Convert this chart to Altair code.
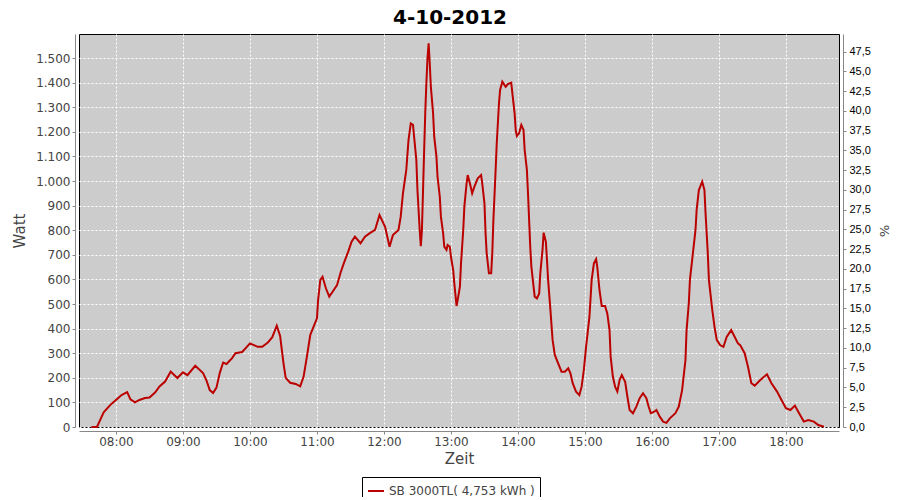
import altair as alt
import pandas as pd

# ---- data ----
times = [
    "07:38", "07:43", "07:46", "07:49", "07:55", "08:00", "08:05", "08:10", "08:13", "08:17",
    "08:21", "08:26", "08:30", "08:35", "08:39", "08:44", "08:49", "08:55", "09:00", "09:04",
    "09:11", "09:18", "09:21", "09:24", "09:27", "09:30", "09:33", "09:36", "09:39", "09:44",
    "09:47", "09:53", "09:57", "10:00", "10:04", "10:07", "10:11", "10:16", "10:20", "10:24",
    "10:27", "10:30", "10:32", "10:36", "10:41", "10:45", "10:48", "10:51", "10:54", "10:57",
    "11:00", "11:01", "11:03", "11:05", "11:08", "11:11", "11:14", "11:18", "11:21", "11:24",
    "11:28", "11:31", "11:34", "11:39", "11:43", "11:47", "11:52", "11:56", "12:01", "12:05",
    "12:08", "12:13", "12:15", "12:17", "12:20", "12:22", "12:24", "12:26", "12:27", "12:29",
    "12:30", "12:31", "12:32", "12:33", "12:34", "12:35", "12:36", "12:37", "12:38", "12:39",
    "12:40", "12:41", "12:42", "12:44", "12:45", "12:47", "12:48", "12:50", "12:51", "12:53",
    "12:54", "12:56", "12:57", "12:59", "13:00", "13:02", "13:03", "13:05", "13:06", "13:08",
    "13:09", "13:11", "13:12", "13:14", "13:15", "13:17", "13:19", "13:21", "13:24", "13:27",
    "13:28", "13:30", "13:31", "13:32", "13:34", "13:36", "13:37", "13:38", "13:40", "13:41",
    "13:43", "13:44", "13:46", "13:47", "13:49", "13:51", "13:54", "13:55", "13:57", "13:58",
    "13:59", "14:01", "14:03", "14:05", "14:06", "14:08", "14:09", "14:10", "14:11", "14:12",
    "14:14", "14:15", "14:17", "14:19", "14:20", "14:22", "14:23", "14:25", "14:26", "14:27",
    "14:29", "14:31", "14:33", "14:36", "14:39", "14:42", "14:45", "14:47", "14:49", "14:52",
    "14:55", "14:57", "14:59", "15:01", "15:04", "15:06", "15:08", "15:10", "15:11", "15:13",
    "15:15", "15:18", "15:20", "15:22", "15:23", "15:25", "15:27", "15:29", "15:31", "15:33",
    "15:36", "15:38", "15:40", "15:43", "15:46", "15:49", "15:52", "15:55", "15:57", "15:59",
    "16:02", "16:04", "16:07", "16:10", "16:13", "16:16", "16:21", "16:24", "16:27", "16:28",
    "16:30", "16:31", "16:33", "16:34", "16:36", "16:37", "16:39", "16:40", "16:42", "16:45",
    "16:47", "16:48", "16:50", "16:51", "16:54", "16:56", "16:58", "17:01", "17:04", "17:07",
    "17:11", "17:14", "17:17", "17:19", "17:23", "17:26", "17:29", "17:32", "17:37", "17:43",
    "17:47", "17:52", "17:56", "18:00", "18:04", "18:08", "18:11", "18:16", "18:20", "18:25",
    "18:29", "18:34",
]
watts = [
    0, 0, 30, 60, 90, 110, 130, 142, 112, 100,
    110, 118, 120, 140, 165, 185, 225, 199, 222, 211,
    249, 219, 190, 150, 138, 160, 220, 262, 256, 280,
    300, 305, 325, 340, 332, 326, 326, 343, 365, 412,
    370, 260, 200, 180, 175, 165, 204, 286, 374, 408,
    442, 516, 598, 611, 564, 530, 550, 577, 625, 665,
    713, 753, 774, 747, 774, 787, 801, 862, 814, 733,
    780, 801, 855, 950, 1045, 1167, 1234, 1228, 1180, 1085,
    963, 882, 801, 735, 801, 963, 1126, 1280, 1400, 1500,
    1560, 1478, 1383, 1275, 1180, 1099, 1017, 936, 855, 787,
    733, 720, 740, 733, 692, 638, 584, 492, 516, 570,
    665, 801, 896, 990, 1024, 990, 950, 977, 1011, 1024,
    990, 909, 787, 706, 625, 625, 706, 841, 1045, 1153,
    1316, 1370, 1404, 1397, 1383, 1394, 1400, 1356, 1275, 1207,
    1183, 1194, 1228, 1207, 1126, 1045, 950, 841, 733, 652,
    570, 530, 523, 543, 625, 720, 790, 753, 679, 598,
    480, 354, 293, 259, 225, 225, 239, 218, 178, 144,
    130, 164, 232, 326, 448, 598, 665, 682, 652, 557,
    492, 492, 462, 394, 286, 204, 164, 144, 191, 211,
    184, 123, 69, 56, 83, 117, 137, 117, 83, 56,
    62, 69, 42, 22, 17, 35, 56, 83, 150, 191,
    272, 394, 503, 598, 679, 720, 801, 882, 963, 997,
    963, 869, 706, 598, 476, 408, 354, 333, 326, 367,
    394, 367, 340, 333, 300, 245, 178, 168, 191, 214,
    178, 144, 110, 76, 69, 87, 62, 22, 28, 22,
    8, 1,
]
series_name = "SB 3000TL( 4,753 kWh )"
date_str = "2012-10-04"
title_text = "4-10-2012"
watt_ticks = list(range(0, 1501, 100))
pct_ticks = [i * 2.5 for i in range(20)]
hour_ticks = list(range(8, 19))

df = pd.DataFrame({
    "Zeit": [f"{date_str}T{t}:00" for t in times],
    "Watt": watts,
    "Serie": [series_name] * len(times),
})
pct_df = pd.DataFrame({"pct": [pct_ticks[0], pct_ticks[-1]]})

FONT = "DejaVu Sans"
AX_GRAY = "#888888"
LBL = "#444444"

x_enc = alt.X(
    "Zeit:T",
    title="Zeit",
    scale=alt.Scale(domain=[
        alt.DateTime(year=2012, month=10, date=4, hours=7, minutes=26, seconds=54),
        alt.DateTime(year=2012, month=10, date=4, hours=18, minutes=47, seconds=30),
    ]),
    axis=alt.Axis(
        values=[alt.DateTime(year=2012, month=10, date=4, hours=h) for h in hour_ticks],
        format="%H:%M",
        offset=4,
        grid=True, gridColor="white", gridDash=[2, 2], gridOpacity=1, gridWidth=1,
        domainColor=AX_GRAY, tickColor=AX_GRAY, tickSize=3,
        labelFont=FONT, labelFontSize=12, labelColor=LBL, labelPadding=2,
        titleFont=FONT, titleFontSize=15, titleFontWeight="normal", titleColor=LBL,
        titlePadding=4,
    ),
)

line = alt.Chart(df).mark_line(strokeWidth=2, interpolate="linear").encode(
    x=x_enc,
    y=alt.Y(
        "Watt:Q",
        title="Watt",
        scale=alt.Scale(domain=[0, 1597.6], nice=False, zero=True),
        axis=alt.Axis(
            values=watt_ticks,
            labelExpr="replace(format(datum.value, ','), ',', '.')",
            offset=4,
            grid=True, gridColor="white", gridDash=[2, 2], gridOpacity=1, gridWidth=1,
            domainColor=AX_GRAY, tickColor=AX_GRAY, tickSize=3,
            labelFont=FONT, labelFontSize=12, labelColor=LBL, labelPadding=2,
            titleFont=FONT, titleFontSize=15, titleFontWeight="normal", titleColor=LBL,
            titlePadding=8,
        ),
    ),
    color=alt.Color(
        "Serie:N",
        scale=alt.Scale(range=["#bb0000"]),
        legend=alt.Legend(
            title=None, orient="none", legendX=283, legendY=443,
            direction="horizontal",
            strokeColor="black", padding=5, fillColor="white",
            symbolType="stroke", symbolSize=256, symbolStrokeWidth=2,
            labelFont=FONT, labelFontSize=12, labelColor=LBL, labelOffset=4,
        ),
    ),
)

pct_layer = alt.Chart(pct_df).mark_point(opacity=0).encode(
    y=alt.Y(
        "pct:Q",
        title="%",
        scale=alt.Scale(domain=[0, 49.74], nice=False, zero=True),
        axis=alt.Axis(
            orient="right",
            values=pct_ticks,
            labelExpr="replace(format(datum.value, '.1f'), '.', ',')",
            offset=4, grid=False,
            domainColor=AX_GRAY, tickColor=AX_GRAY, tickSize=3,
            labelFont="Liberation Sans", labelFontSize=11, labelColor="black", labelPadding=3,
            titleFont=FONT, titleFontSize=13, titleFontWeight="normal", titleColor=LBL,
            titlePadding=6,
        ),
    ),
)

chart = alt.layer(line, pct_layer).resolve_scale(y="independent").properties(
    width=760,
    height=393,
    autosize=alt.AutoSizeParams(type="none"),
    padding={"left": 71, "top": 26, "right": 53, "bottom": 70},
    background="white",
    title=alt.TitleParams(
        title_text, font=FONT, fontSize=20, fontWeight="bold", color="black",
        anchor="middle", dx=-9, offset=6,
    ),
).configure_view(
    fill="#cccccc", stroke="black", strokeWidth=1,
)

chart.save("out.html", embed_options={"renderer": "svg", "actions": False})
